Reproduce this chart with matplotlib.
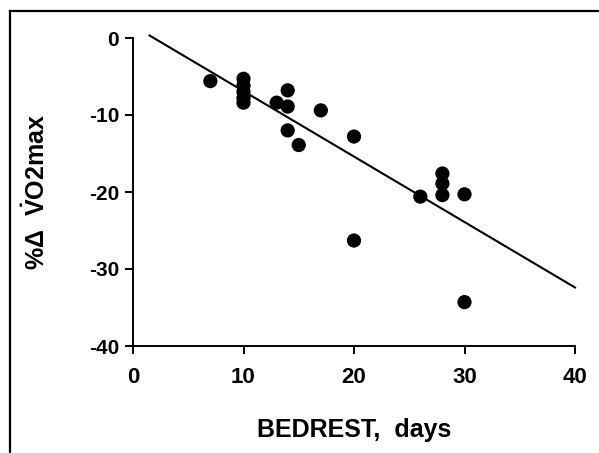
import matplotlib
matplotlib.use("Agg")
import matplotlib.pyplot as plt
from matplotlib.lines import Line2D
import numpy as np

# Data
bedrest_days = [7, 10, 10, 10, 10, 10, 13, 14, 14, 14, 15, 17, 20, 20, 26, 28, 28, 28, 30, 30]
vo2max_change = [-5.6, -5.3, -6.2, -7.0, -7.8, -8.4, -8.4, -6.8, -8.9, -12.0, -13.9, -9.4,
                 -12.8, -26.3, -20.6, -17.6, -18.9, -20.4, -20.3, -34.3]
fit_intercept = 1.6
fit_slope = -0.85
fit_range = [1.5, 40]
x_ticks = [0, 10, 20, 30, 40]
y_ticks = [0, -10, -20, -30, -40]

plt.rcParams['font.family'] = ['Liberation Sans', 'DejaVu Sans']
plt.rcParams['font.weight'] = 'bold'
plt.rcParams['mathtext.fontset'] = 'custom'
plt.rcParams['mathtext.rm'] = 'Liberation Sans'
plt.rcParams['mathtext.bf'] = 'Liberation Sans:bold'
plt.rcParams['mathtext.it'] = 'Liberation Sans:italic'

W, H = 599, 453
fig = plt.figure(figsize=(W / 100, H / 100), dpi=100)
ax = fig.add_axes([133 / W, 1 - 346 / H, (575 - 133) / W, (346 - 38) / H])

ax.scatter(bedrest_days, vo2max_change, s=105, color='black', edgecolors='none', zorder=3, clip_on=False)
fx = np.array(fit_range, dtype=float)
ax.plot(fx, fit_intercept + fit_slope * fx, color='black', lw=1.5, clip_on=False)

ax.set_xlim(0, 40)
ax.set_ylim(-40, 0)
ax.set_xticks(x_ticks)
ax.set_yticks(y_ticks)
ax.set_xticklabels([str(t) for t in x_ticks], fontsize=16, fontweight='bold')
ax.set_yticklabels([str(t) for t in y_ticks], fontsize=15, fontweight='bold')
ax.spines['top'].set_visible(False)
ax.spines['right'].set_visible(False)
for s in ('left', 'bottom'):
    ax.spines[s].set_linewidth(1.4)
ax.tick_params(axis='both', direction='out', length=6, width=1.4, color='black')
ax.tick_params(axis='x', pad=9)
ax.tick_params(axis='y', pad=4)

ax.set_xlabel('BEDREST,  days', fontsize=18, fontweight='bold', labelpad=22)
ax.set_ylabel(r'%$\mathrm{\Delta}$  $\dot{\mathbf{V}}$O2max', fontsize=18, fontweight='bold', labelpad=28)

# figure frame (top and left border)
fig.add_artist(Line2D([10 / W, 1.0], [1 - 10.5 / H, 1 - 10.5 / H], color='black', lw=1.6))
fig.add_artist(Line2D([10 / W, 10 / W], [0, 1 - 10.5 / H], color='black', lw=1.6))

fig.savefig('out.png', dpi=100, facecolor='white')
